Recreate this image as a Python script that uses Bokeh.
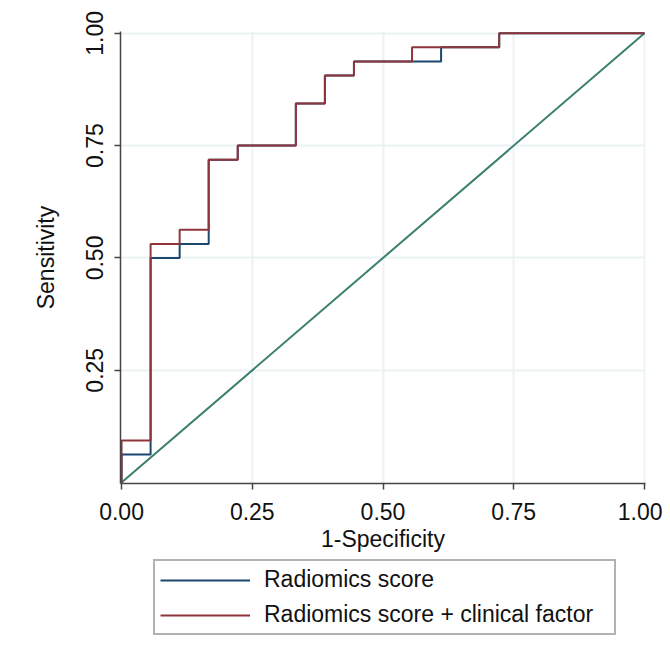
from bokeh.plotting import figure
from bokeh.models import Legend, LegendItem, FixedTicker, Range1d
from bokeh.layouts import column
from bokeh.embed import file_html
from bokeh.resources import INLINE

# ROC vertices (1-Specificity, Sensitivity); 18 negatives, 32 positives
radiomics_fpr = [0, 0, 1/18, 1/18, 2/18, 2/18, 3/18, 3/18, 4/18, 4/18, 6/18, 6/18,
                 7/18, 7/18, 8/18, 8/18, 11/18, 11/18, 13/18, 13/18, 1]
radiomics_tpr = [0, 2/32, 2/32, 16/32, 16/32, 17/32, 17/32, 23/32, 23/32, 24/32, 24/32, 27/32,
                 27/32, 29/32, 29/32, 30/32, 30/32, 31/32, 31/32, 1, 1]

combined_fpr = [0, 0, 1/18, 1/18, 2/18, 2/18, 3/18, 3/18, 4/18, 4/18, 6/18, 6/18,
                7/18, 7/18, 8/18, 8/18, 10/18, 10/18, 13/18, 13/18, 1]
combined_tpr = [0, 3/32, 3/32, 17/32, 17/32, 18/32, 18/32, 23/32, 23/32, 24/32, 24/32, 27/32,
                27/32, 29/32, 29/32, 30/32, 30/32, 31/32, 31/32, 1, 1]

ref_x = [0, 1]
ref_y = [0, 1]

x_ticks = [0, 0.25, 0.5, 0.75, 1.0]
y_ticks = [0.25, 0.5, 0.75, 1.0]
series_labels = ["Radiomics score", "Radiomics score + clinical factor"]

FONT = "Liberation Sans"
FS = "23px"
BLUE = "#1a476f"
RED = "#90353b"

p = figure(width=662, height=558, output_backend="svg", toolbar_location=None,
           x_range=Range1d(-0.002, 1.002), y_range=Range1d(-0.002, 1.004),
           min_border_left=120, min_border_right=17, min_border_top=31, min_border_bottom=75)
p.outline_line_color = None
p.background_fill_color = "white"

p.line(ref_x, ref_y, line_color="#3b7f6e", line_width=2)
p.line(radiomics_fpr, radiomics_tpr, line_color=BLUE, line_width=2)
p.line(combined_fpr, combined_tpr, line_color=RED, line_width=2)

for ax in (p.xaxis[0], p.yaxis[0]):
    ax.axis_line_color = "#444444"
    ax.axis_line_width = 1.5
    ax.major_tick_line_color = "#444444"
    ax.major_tick_line_width = 1.5
    ax.major_tick_out = 6
    ax.major_tick_in = 0
    ax.minor_tick_line_color = None
    ax.major_label_text_font = FONT
    ax.major_label_text_font_size = FS
    ax.major_label_text_color = "#111111"
    ax.axis_label_text_font = FONT
    ax.axis_label_text_font_size = FS
    ax.axis_label_text_font_style = "normal"
    ax.axis_label_text_color = "#111111"

p.xaxis.ticker = FixedTicker(ticks=x_ticks)
p.yaxis.ticker = FixedTicker(ticks=y_ticks)
p.xaxis.major_label_overrides = {0: "0.00", 0.25: "0.25", 0.5: "0.50", 0.75: "0.75", 1.0: "1.00"}
p.yaxis.major_label_overrides = {0.25: "0.25", 0.5: "0.50", 0.75: "0.75", 1.0: "1.00"}
p.xaxis.axis_label = "1-Specificity"
p.yaxis.axis_label = "Sensitivity"
p.yaxis.major_label_orientation = "vertical"
p.xaxis.major_label_standoff = 13
p.xaxis.axis_label_standoff = 3
p.yaxis.major_label_standoff = 11
p.yaxis.axis_label_standoff = 25

p.xgrid.ticker = FixedTicker(ticks=[0.25, 0.5, 0.75, 1.0])
p.ygrid.ticker = FixedTicker(ticks=y_ticks)
p.grid.grid_line_color = "#eaf2f3"
p.grid.grid_line_width = 2

# Legend panel (separate figure so the legend is not clipped)
lg = figure(width=662, height=100, output_backend="svg", toolbar_location=None,
            x_range=Range1d(0, 1), y_range=Range1d(0, 1),
            min_border_left=120, min_border_right=17, min_border_top=0, min_border_bottom=0)
lg.axis.visible = False
lg.grid.visible = False
lg.outline_line_color = None
nan = float("nan")
k1 = lg.line(x=[nan], y=[nan], line_color=BLUE, line_width=2)
k2 = lg.line(x=[nan], y=[nan], line_color=RED, line_width=2)

legend = Legend(items=[LegendItem(label=series_labels[0], renderers=[k1]),
                       LegendItem(label=series_labels[1], renderers=[k2])],
                location=(33, 23), orientation="vertical",
                label_text_font=FONT, label_text_font_size=FS, label_text_color="#111111",
                glyph_width=90, glyph_height=26, label_standoff=14, label_width=345,
                spacing=8, padding=5, margin=0,
                border_line_color="#666666", border_line_width=2,
                background_fill_alpha=1)
lg.add_layout(legend, "center")

layout = column(p, lg, spacing=0)
open("out.html", "w").write(file_html(layout, INLINE))
